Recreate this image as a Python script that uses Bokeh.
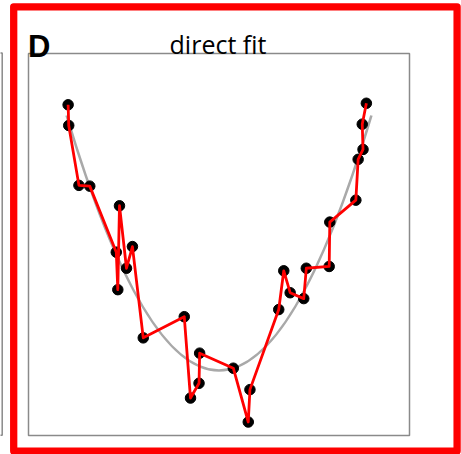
from bokeh.plotting import figure
from bokeh.models import Range1d, ColumnDataSource
from bokeh.core.properties import value
from bokeh.embed import file_html
from bokeh.resources import INLINE

# ---- data ----
x_obs = [-0.990, -0.986, -0.919, -0.848, -0.674, -0.664, -0.653, -0.607, -0.568,
         -0.497, -0.228, -0.187, -0.131, -0.127, 0.094, 0.192, 0.203, 0.392,
         0.425, 0.467, 0.556, 0.573, 0.723, 0.727, 0.898, 0.913, 0.945, 0.940, 0.967]
y_obs = [1.042, 0.961, 0.726, 0.723, 0.464, 0.317, 0.646, 0.401, 0.486,
         0.128, 0.211, -0.108, -0.050, 0.068, 0.009, -0.202, -0.075, 0.239,
         0.391, 0.305, 0.282, 0.401, 0.408, 0.582, 0.668, 0.828, 0.867, 0.966, 1.048]

# true curve (parabola) as quadratic Bezier: endpoints and control point
curve_x0, curve_y0 = [-1.0], [1.0]
curve_x1, curve_y1 = [1.0], [1.0]
curve_cx, curve_cy = [0.0], [-1.0]

panel_label = "D"
title_text = "direct fit"

# ---- layout (pixel mapping of the full canvas) ----
W, H = 461, 454
BOX_L, BOX_R, BOX_T, BOX_B = 28, 409, 53, 435
XMIN, XMAX = -1.25, 1.25
SX = (XMAX - XMIN) / (BOX_R - BOX_L)   # data units per px
Y0_PX, Y1_PX = 370.0, 115.0            # pixel rows of y=0 and y=1
SY = 1.0 / (Y0_PX - Y1_PX)


def X(px):
    return XMIN + (px - BOX_L) * SX


def Y(py):
    return (Y0_PX - py) * SY


p = figure(width=W, height=H, output_backend="svg", toolbar_location=None,
           x_range=Range1d(X(0), X(W)), y_range=Range1d(Y(H), Y(0)),
           min_border=0, min_border_left=0, min_border_right=0,
           min_border_top=0, min_border_bottom=0,
           x_axis_location=None, y_axis_location=None,
           outline_line_color=None, background_fill_color="white",
           border_fill_color="white")
p.xgrid.visible = False
p.ygrid.visible = False

# neighbouring panel edge at far left
p.quad(left=[X(-20)], right=[X(1.7)], top=[Y(52.5)], bottom=[Y(434.7)],
       fill_color=None, line_color="#8a8a8a", line_width=1.5)

# red highlight border
p.quad(left=[X(13.2)], right=[X(456.6)], top=[Y(6.3)], bottom=[Y(450.6)],
       fill_color=None, line_color="#fe0000", line_width=7.3, line_join="round")

# plot box
p.quad(left=[X(BOX_L)], right=[X(BOX_R)], top=[Y(BOX_T)], bottom=[Y(BOX_B)],
       fill_color="white", line_color="#8a8a8a", line_width=1.5)

# true curve
p.quadratic(x0=curve_x0, y0=curve_y0, x1=curve_x1, y1=curve_y1,
            cx=curve_cx, cy=curve_cy, line_color="#a9a9a9", line_width=2.6)

src = ColumnDataSource(dict(x=x_obs, y=y_obs))
p.scatter("x", "y", source=src, size=10.5, fill_color="black", line_color="black")
p.line("x", "y", source=src, line_color="#ff0000", line_width=2.8, line_join="round")

# texts
p.text(x=[X(27.5)], y=[Y(45.5)], text=[panel_label], text_font=value("Liberation Sans"),
       text_font_style="bold", text_font_size="31px", text_color="black",
       text_align="left", text_baseline="alphabetic")
p.text(x=[X(217.5)], y=[Y(43.5)], text=[title_text], text_font=value("Open Sans"),
       text_font_size="25px", text_color="black",
       text_align="center", text_baseline="alphabetic")

open("out.html", "w").write(file_html(p, INLINE))
